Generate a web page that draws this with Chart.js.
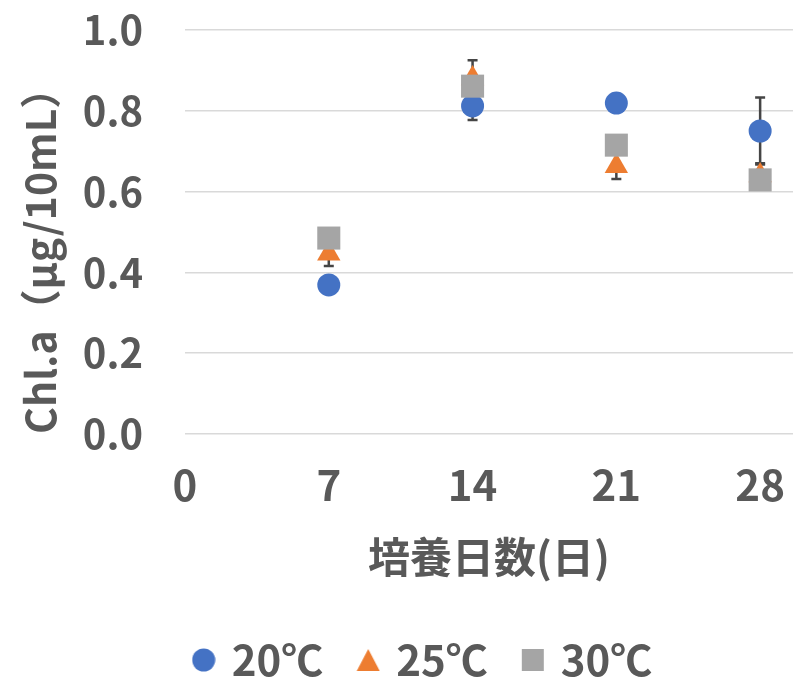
<!DOCTYPE html>
<html lang="ja">
<head>
<meta charset="UTF-8">
<title>Chl.a 培養日数</title>
<script src="https://cdn.jsdelivr.net/npm/chart.js"></script>
<style>
  html, body { margin: 0; padding: 0; background: #fff; }
  #wrap { width: 793px; height: 685px; }
</style>
</head>
<body>
<div id="wrap"><canvas id="chlChart"></canvas></div>
<script>
// データ
const days = [7, 14, 21, 28];
const xTickValues = [0, 7, 14, 21, 28];
const seriesNames = ['20℃', '25℃', '30℃'];
const chl20 = [0.369, 0.812, 0.819, 0.750];
const chl25 = [0.446, 0.880, 0.663, 0.640];
const chl30 = [0.485, 0.861, 0.715, 0.629];
const err20 = [0.010, 0.035, 0.010, 0.083];
const err25 = [0.030, 0.045, 0.032, 0.030];
const err30 = [0.010, 0.020, 0.020, 0.020];

const FONT = "'Noto Sans CJK JP', 'Noto Sans', sans-serif";
const TXT = '#595959';
const colors = ['#4472C4', '#ED7D31', '#A5A5A5'];
const shapes = ['circle', 'triangle', 'rect'];

// 凡例用マーカー
function makeMarker(shape, color) {
    const c = document.createElement('canvas');
    c.width = 24; c.height = 24;
    const g = c.getContext('2d');
    g.fillStyle = color;
    g.beginPath();
    if (shape === 'circle') g.arc(12, 12, 11.5, 0, Math.PI * 2);
    else if (shape === 'triangle') { g.moveTo(12, 1); g.lineTo(23.5, 23); g.lineTo(0.5, 23); g.closePath(); }
    else g.rect(1, 1, 22, 22);
    g.fill();
    return c;
}
const markers = shapes.map((s, i) => makeMarker(s, colors[i]));

// 誤差範囲
const errorBars = {
    id: 'errorBars',
    beforeDatasetsDraw(chart) {
        const { ctx, scales: { x, y } } = chart;
        ctx.save();
        ctx.strokeStyle = '#454545';
        ctx.lineWidth = 2.5;
        chart.data.datasets.forEach(ds => {
            ds.errors.forEach((e, j) => {
                const px = x.getPixelForValue(days[j]);
                const top = y.getPixelForValue(ds.data[j].y + e);
                const bot = y.getPixelForValue(ds.data[j].y - e);
                ctx.beginPath();
                ctx.moveTo(px, top); ctx.lineTo(px, bot);
                ctx.moveTo(px - 5, top); ctx.lineTo(px + 5, top);
                ctx.moveTo(px - 5, bot); ctx.lineTo(px + 5, bot);
                ctx.stroke();
            });
        });
        ctx.restore();
    }
};

// 凡例を少し右へ
const legendShift = {
    id: 'legendShift',
    afterLayout(chart) {
        chart.legend.left += 28;
        chart.legend.right += 28;
        chart.legend.top += 6;
        chart.legend.bottom += 6;
    }
};

const noPad = s => { s.paddingTop = 0; s.paddingBottom = 0; s.paddingLeft = 0; s.paddingRight = 0; };
const toPoints = arr => arr.map((v, i) => ({ x: days[i], y: v }));

new Chart(document.getElementById('chlChart'), {
    type: 'scatter',
    data: {
        datasets: [
            { label: seriesNames[0], data: toPoints(chl20), errors: err20, order: 3,
              pointStyle: 'circle', pointRadius: 11.5, backgroundColor: colors[0], borderWidth: 0 },
            { label: seriesNames[1], data: toPoints(chl25), errors: err25, order: 2,
              pointStyle: 'triangle', pointRadius: 13.5, backgroundColor: colors[1], borderWidth: 0 },
            { label: seriesNames[2], data: toPoints(chl30), errors: err30, order: 1,
              pointStyle: 'rect', pointRadius: 16.3, backgroundColor: colors[2], borderWidth: 0 }
        ]
    },
    options: {
        responsive: true,
        maintainAspectRatio: false,
        animation: false,
        layout: { autoPadding: false, padding: { top: 30, left: 0, right: 0, bottom: 0 } },
        scales: {
            x: {
                type: 'linear',
                min: 0,
                max: 29.6,
                afterBuildTicks: s => { s.ticks = xTickValues.map(v => ({ value: v })); },
                afterFit: s => { s.height = 161; noPad(s); },
                grid: { display: false },
                border: { display: false },
                ticks: { color: TXT, padding: 18, font: { family: FONT, size: 42, weight: 'bold' } },
                title: {
                    display: true,
                    text: '培養日数(日)',
                    color: TXT,
                    padding: { top: 0, bottom: 13 },
                    font: { family: FONT, size: 42, weight: 'bold' }
                }
            },
            y: {
                min: 0,
                max: 1,
                afterFit: s => { s.width = 185; noPad(s); },
                grid: { color: '#d9d9d9', lineWidth: 1.5, drawTicks: false },
                border: { display: false },
                ticks: {
                    stepSize: 0.2,
                    padding: 42,
                    color: TXT,
                    callback: v => v.toFixed(1),
                    font: { family: FONT, size: 40, weight: 'bold' }
                },
                title: {
                    display: true,
                    text: 'Chl.a（μg/10mL）',
                    align: 'start',
                    color: TXT,
                    padding: { top: 16, bottom: 0 },
                    font: { family: FONT, size: 41, weight: 'bold' }
                }
            }
        },
        plugins: {
            tooltip: { enabled: false },
            legend: {
                position: 'bottom',
                labels: {
                    usePointStyle: true,
                    boxWidth: 14,
                    boxHeight: 22,
                    padding: 38,
                    color: TXT,
                    font: { family: FONT, size: 42, weight: 'bold' },
                    generateLabels: chart => chart.data.datasets.map((ds, i) => ({
                        text: ds.label,
                        pointStyle: markers[i],
                        fillStyle: colors[i],
                        strokeStyle: colors[i],
                        lineWidth: 0,
                        hidden: false,
                        datasetIndex: i,
                        fontColor: TXT
                    }))
                }
            }
        }
    },
    plugins: [errorBars, legendShift]
});
</script>
</body>
</html>
